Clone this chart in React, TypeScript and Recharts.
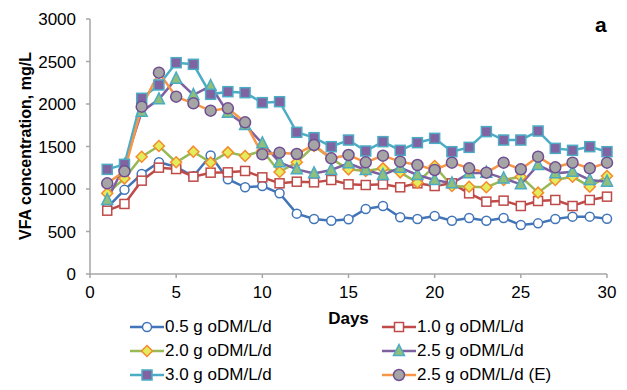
import { LineChart, Line, XAxis, YAxis } from 'recharts'

const DAYS = [1, 2, 3, 4, 5, 6, 7, 8, 9, 10, 11, 12, 13, 14, 15, 16, 17, 18, 19, 20, 21, 22, 23, 24, 25, 26, 27, 28, 29, 30]
const S05 = [780, 990, 1176, 1315, 1260, 1150, 1395, 1115, 1020, 1035, 950, 710, 647, 627, 643, 765, 800, 667, 647, 682, 627, 659, 627, 659, 576, 596, 647, 675, 675, 651]
const S10 = [745, 824, 1098, 1251, 1235, 1145, 1192, 1196, 1212, 1137, 1067, 1086, 1078, 1106, 1055, 1047, 1055, 1020, 1067, 1035, 1067, 949, 851, 863, 800, 859, 871, 800, 871, 910]
const S20 = [949, 1125, 1380, 1506, 1314, 1439, 1310, 1431, 1388, 1451, 1200, 1314, 1506, 1357, 1231, 1212, 1243, 1196, 1075, 1271, 1035, 1027, 1020, 1106, 1145, 957, 1106, 1145, 1027, 1153]
const S25 = [870, 1280, 1910, 2055, 2298, 2106, 2212, 1898, 1753, 1537, 1314, 1231, 1184, 1224, 1302, 1224, 1165, 1251, 1165, 1106, 1067, 1184, 1192, 1125, 1055, 1282, 1184, 1204, 1106, 1086]
const S30 = [1231, 1290, 2067, 2224, 2486, 2467, 2114, 2145, 2133, 2016, 2027, 1667, 1604, 1498, 1576, 1447, 1557, 1455, 1545, 1596, 1439, 1490, 1675, 1576, 1576, 1682, 1478, 1455, 1498, 1439]
const S25E = [1067, 1208, 1969, 2369, 2086, 2008, 1922, 1949, 1784, 1408, 1427, 1412, 1518, 1361, 1400, 1314, 1392, 1322, 1282, 1224, 1310, 1243, 1192, 1310, 1231, 1380, 1255, 1310, 1243, 1310]

const X_TICKS = [0, 5, 10, 15, 20, 25, 30]
const Y_TICKS = [0, 500, 1000, 1500, 2000, 2500, 3000]

const FONT = '"Liberation Sans", Arial, sans-serif'
const AXIS_GRAY = '#a6a6a6'

type MarkerKind = 'circle' | 'square' | 'diamond' | 'triangle'

interface Series {
    key: string
    name: string
    values: number[]
    color: string
    marker: MarkerKind
    fill: string
    border: string
    size: number
}

const SERIES: Series[] = [
    { key: 's05', name: '0.5 g oDM/L/d', values: S05, color: '#4275b8', marker: 'circle', fill: '#ffffff', border: '#4275b8', size: 4.5 },
    { key: 's10', name: '1.0 g oDM/L/d', values: S10, color: '#be4b48', marker: 'square', fill: '#ffffff', border: '#be4b48', size: 4.5 },
    { key: 's20', name: '2.0 g oDM/L/d', values: S20, color: '#98b954', marker: 'diamond', fill: '#e2ec5c', border: '#f58a2e', size: 5.5 },
    { key: 's25', name: '2.5 g oDM/L/d', values: S25, color: '#7d60a0', marker: 'triangle', fill: '#8fbf7a', border: '#4bacc6', size: 5.5 },
    { key: 's30', name: '3.0 g oDM/L/d', values: S30, color: '#4bacc6', marker: 'square', fill: '#8064a2', border: '#4bacc6', size: 5 },
    { key: 's25e', name: '2.5 g oDM/L/d (E)', values: S25E, color: '#f79646', marker: 'circle', fill: '#a5a5a5', border: '#6f4f92', size: 5.5 },
]

const data = DAYS.map((d, i) => {
    const row: Record<string, number> = { day: d }
    SERIES.forEach(s => { row[s.key] = s.values[i] })
    return row
})

function Marker({ s, cx, cy }: { s: Series; cx: number; cy: number }) {
    const r = s.size
    const common = { fill: s.fill, stroke: s.border, strokeWidth: 1.5 }
    if (s.marker === 'circle') return <circle cx={cx} cy={cy} r={r} {...common} />
    if (s.marker === 'square') return <rect x={cx - r} y={cy - r} width={r * 2} height={r * 2} {...common} />
    if (s.marker === 'diamond') {
        return <polygon points={`${cx},${cy - r} ${cx + r},${cy} ${cx},${cy + r} ${cx - r},${cy}`} {...common} />
    }
    return <polygon points={`${cx},${cy - r - 1} ${cx + r},${cy + r - 1} ${cx - r},${cy + r - 1}`} {...common} />
}

function Legend() {
    return (
        <div style={{ position: 'absolute', left: 130, top: 315, display: 'grid', gridTemplateColumns: '252px 220px', rowGap: 0 }}>
            {[0, 2, 4].map(i => [SERIES[i], SERIES[i + 1]]).flat().map(s => (
                <div key={s.key} style={{ display: 'flex', alignItems: 'center', height: 24, fontFamily: FONT, fontSize: 17, color: '#000' }}>
                    <svg width={34} height={16} style={{ marginRight: 1 }}>
                        <line x1={0} y1={8} x2={34} y2={8} stroke={s.color} strokeWidth={2.5} />
                        <Marker s={s} cx={17} cy={8} />
                    </svg>
                    <span>{s.name}</span>
                </div>
            ))}
        </div>
    )
}

export default function App() {
    return (
        <div style={{ position: 'absolute', left: 0, top: 0, width: 627, height: 390, background: '#fff' }}>
            <LineChart width={627} height={390} data={data} margin={{ top: 19, right: 20, left: 0, bottom: 86 }}>
                <XAxis
                    dataKey='day'
                    type='number'
                    domain={[0, 30]}
                    ticks={X_TICKS}
                    height={30}
                    tickSize={4}
                    tickMargin={8}
                    stroke={AXIS_GRAY}
                    strokeWidth={1.5}
                    tick={{ fill: '#000', fontSize: 17, fontFamily: FONT }}
                    label={{ value: 'Days', position: 'bottom', offset: 8, style: { fill: '#000', fontSize: 17, fontWeight: 'bold', fontFamily: FONT } }}
                />
                <YAxis
                    domain={[0, 3000]}
                    ticks={Y_TICKS}
                    width={90}
                    tickSize={4}
                    tickMargin={10}
                    stroke={AXIS_GRAY}
                    strokeWidth={1.5}
                    tick={{ fill: '#000', fontSize: 17, fontFamily: FONT }}
                    label={{
                        content: () => (
                            <text x={25} y={146} transform='rotate(-90 25 146)' textAnchor='middle' dominantBaseline='central'
                                style={{ fontSize: 16, fontWeight: 'bold', fontFamily: FONT, fill: '#000' }}>
                                VFA concentration, mg/L
                            </text>
                        ),
                    }}
                />
                {SERIES.map(s => (
                    <Line
                        key={s.key}
                        dataKey={s.key}
                        name={s.name}
                        type='linear'
                        stroke={s.color}
                        strokeWidth={2.5}
                        isAnimationActive={false}
                        dot={(p: any) => <Marker key={`${s.key}-${p.index}`} s={s} cx={p.cx} cy={p.cy} />}
                        activeDot={false}
                    />
                ))}
            </LineChart>
            <div style={{ position: 'absolute', left: 595, top: 13, fontFamily: FONT, fontSize: 21, fontWeight: 'bold' }}>a</div>
            <Legend />
        </div>
    )
}
